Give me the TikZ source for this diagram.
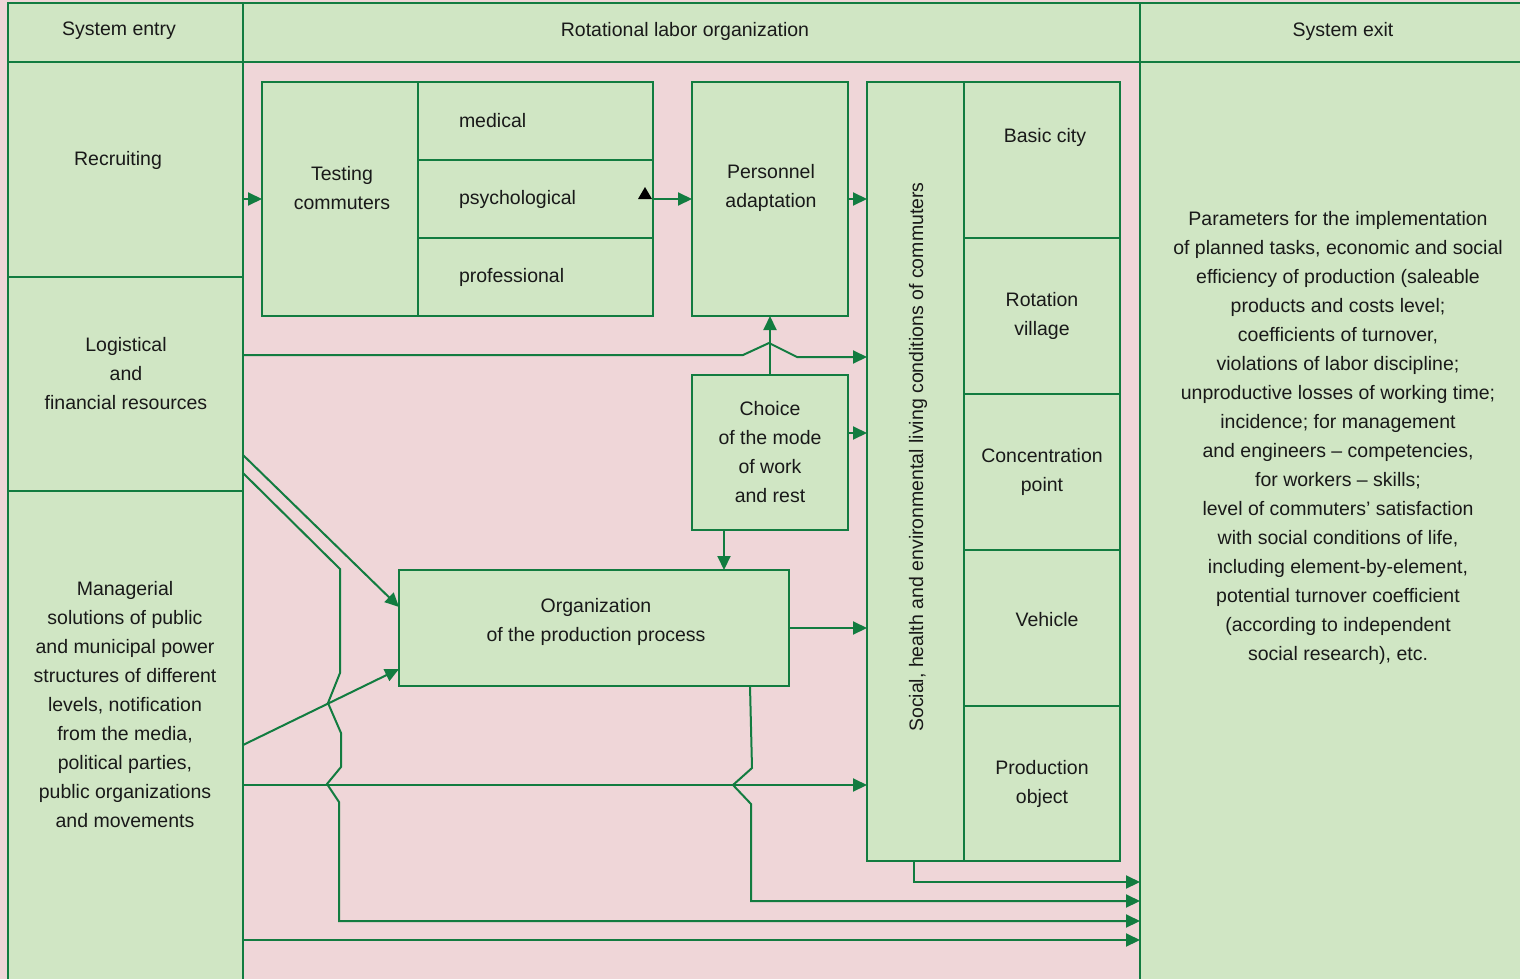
\documentclass[tikz,border=0pt]{standalone}
\usepackage{fontspec}
\setmainfont{Liberation Sans}
\usetikzlibrary{arrows.meta}
\definecolor{bgpink}{RGB}{239,214,216}
\definecolor{cellgreen}{RGB}{208,230,196}
\definecolor{lgreen}{RGB}{18,124,64}
\definecolor{txtc}{RGB}{25,25,25}
\newcommand{\dfont}{\fontsize{19.5}{29}\selectfont}
\begin{document}
\begin{tikzpicture}[x=1pt,y=-1pt,
  cell/.style={draw=lgreen, fill=cellgreen, line width=2pt, anchor=north west,
    inner sep=0pt, outer sep=0pt, align=center, text=txtc, font=\dfont},
  lcell/.style={cell, align=left, inner xsep=41pt, text width=153pt},
  txt/.style={align=center, text=txtc, font=\dfont, inner sep=0pt},
  ln/.style={line width=2pt, draw=lgreen},
  arr/.style={ln, -{Triangle[length=14pt,width=13pt]}}]
\fill[bgpink] (0,0) rectangle (1520,979);
\useasboundingbox (0,0) rectangle (1520,979);
% header row
\node[cell, minimum width=235pt, minimum height=59pt] (hdrL) at (8,3) {};
\node[txt] (hdrLT) at (119,31) {System entry};
\node[cell, minimum width=897pt, minimum height=59pt] (hdrM) at (243,3) {};
\node[txt] (hdrMT) at (685,31) {Rotational labor organization};
\node[cell, minimum width=385pt, minimum height=59pt] (hdrR) at (1140,3) {};
\node[txt] (hdrRT) at (1343,31) {System exit};
% left column
\node[cell, minimum width=235pt, minimum height=215pt] (recr) at (8,62) {};
\node[txt] (recrT) at (118,160) {Recruiting};
\node[cell, minimum width=235pt, minimum height=214pt] (logi) at (8,277) {};
\node[txt] (logiT) at (126,374) {Logistical\\and\\financial resources};
\node[cell, minimum width=235pt, minimum height=490pt] (mana) at (8,491) {};
\node[txt] (manaT) at (125,705) {Managerial\\solutions of public\\and municipal power\\structures of different\\levels, notification\\from the media,\\political parties,\\public organizations\\and movements};
% right column
\node[cell, minimum width=385pt, minimum height=919pt] (exitb) at (1140,62) {};
\node[txt] (exitT) at (1338,438) {Parameters for the implementation\\of planned tasks, economic and social\\efficiency of production (saleable\\products and costs level;\\coefficients of turnover,\\violations of labor discipline;\\unproductive losses of working time;\\incidence; for management\\and engineers -- competencies,\\for workers -- skills;\\level of commuters' satisfaction\\with social conditions of life,\\including element-by-element,\\potential turnover coefficient\\(according to independent\\social research), etc.};
% testing
\node[cell, minimum width=156pt, minimum height=234pt] (test) at (262,82) {};
\node[txt] (testT) at (342,188) {Testing\\commuters};
\node[lcell, minimum height=78pt] (med) at (418,82) {medical};
\node[lcell, minimum height=78pt] (psy) at (418,160) {psychological};
\node[lcell, minimum height=78pt] (prof) at (418,238) {professional};
% personnel
\node[cell, minimum width=156pt, minimum height=234pt] (pers) at (692,82) {};
\node[txt] (persT) at (771,188) {Personnel\\adaptation};
% choice
\node[cell, minimum width=156pt, minimum height=155pt] (choice) at (692,375) {Choice\\of the mode\\of work\\and rest};
% organization
\node[cell, minimum width=390pt, minimum height=116pt] (org) at (399,570) {};
\node[txt] (orgT) at (596,622) {Organization\\of the production process};
% social column
\node[cell, minimum width=97pt, minimum height=779pt] (soc) at (867,82) {};
\node[txt, rotate=90] (socT) at (918,457) {Social, health and environmental living conditions of commuters};
\node[cell, minimum width=156pt, minimum height=156pt] (bc) at (964,82) {};
\node[txt] (bcT) at (1045,137) {Basic city};
\node[cell, minimum width=156pt, minimum height=156pt] (rv) at (964,238) {Rotation\\village};
\node[cell, minimum width=156pt, minimum height=156pt] (cp) at (964,394) {Concentration\\point};
\node[cell, minimum width=156pt, minimum height=156pt] (veh) at (964,550) {};
\node[txt] (vehT) at (1047,620) {Vehicle};
\node[cell, minimum width=156pt, minimum height=155pt] (po) at (964,706) {Production\\object};
% stray black arrowhead
\fill[black] (638,199) -- (652,199) -- (645,187) -- cycle;
% connectors
\draw[arr] (test.west -| recr.east) -- (test.west);
\draw[arr] (psy.east) -- (psy.east -| pers.west);
\draw[arr] (pers.east) -- (pers.east -| soc.west);
\draw[arr] (choice.north) -- (pers.south);
\draw[arr] (logi.east |- 0,355) -- (743,355) -- (769,343) -- (797,357) -- (soc.west |- 0,357);
\draw[arr] (choice.east |- 0,433) -- (soc.west |- 0,433);
\draw[arr] (choice.south -| 724,0) -- (org.north -| 724,0);
\draw[arr] (org.east) -- (org.east -| soc.west);
\draw[arr] (logi.east |- 0,455) -- (org.west |- 0,607);
\draw[arr] (mana.east |- 0,745) -- (org.west |- 0,669);
\draw[arr] (mana.east |- 0,785) -- (soc.west |- 0,785);
\draw[arr] (logi.east |- 0,473) -- (340,569) -- (340,673) -- (328,703) -- (341,733) -- (341,767)
  -- (327,784) -- (339,802) -- (339,921) -- (exitb.west |- 0,921);
\draw[arr] (org.south -| 750,0) -- (752,768) -- (733,785) -- (751,804) -- (751,901) -- (exitb.west |- 0,901);
\draw[arr] (soc.south -| 914,0) -- (914,882) -- (exitb.west |- 0,882);
\draw[arr] (mana.east |- 0,940) -- (exitb.west |- 0,940);
\end{tikzpicture}
\end{document}
